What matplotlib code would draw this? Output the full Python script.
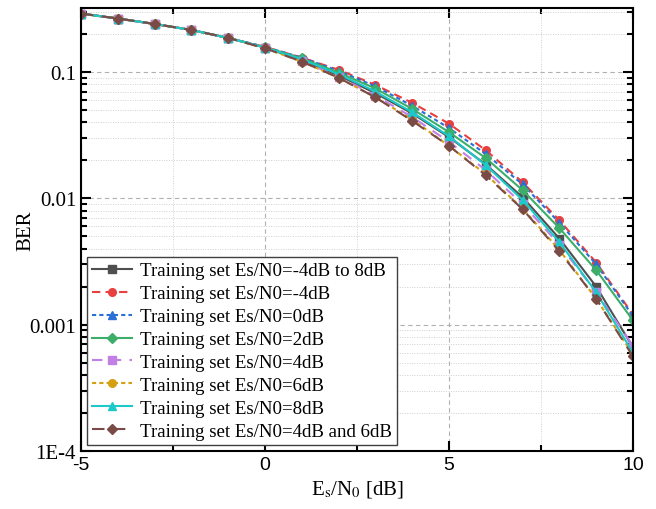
import matplotlib
matplotlib.use("Agg")
import matplotlib.pyplot as plt
from matplotlib.ticker import LogLocator, FixedLocator, NullFormatter

plt.rcParams["mathtext.fontset"] = "stix"

# Es/N0 grid [dB]
snr = [-5, -4, -3, -2, -1, 0, 1, 2, 3, 4, 5, 6, 7, 8, 9, 10]

head = [0.29, 0.265, 0.24, 0.215, 0.186]

ber_all = head + [0.156, 0.124, 0.094, 0.068, 0.047, 0.0305, 0.0185, 0.0102, 0.0048, 0.0020, 0.00066]
ber_m4 = head + [0.158, 0.130, 0.104, 0.079, 0.057, 0.039, 0.024, 0.0134, 0.0067, 0.0031, 0.0012]
ber_0 = head + [0.158, 0.130, 0.102, 0.077, 0.054, 0.036, 0.0224, 0.0129, 0.0064, 0.0030, 0.00117]
ber_2 = head + [0.157, 0.128, 0.099, 0.074, 0.051, 0.0334, 0.0208, 0.0116, 0.0058, 0.0027, 0.00108]
ber_4 = head + [0.155, 0.122, 0.092, 0.065, 0.044, 0.028, 0.0167, 0.0090, 0.0043, 0.0018, 0.00068]
ber_6 = head + [0.154, 0.121, 0.090, 0.063, 0.042, 0.026, 0.0155, 0.0083, 0.0039, 0.0016, 0.00058]
ber_8 = head + [0.156, 0.126, 0.096, 0.070, 0.048, 0.031, 0.0183, 0.0097, 0.0045, 0.0018, 0.00060]
ber_46 = head + [0.154, 0.121, 0.090, 0.063, 0.041, 0.026, 0.0152, 0.0082, 0.0038, 0.0016, 0.00056]

labels = [
    "Training set Es/N0=-4dB to 8dB",
    "Training set Es/N0=-4dB",
    "Training set Es/N0=0dB",
    "Training set Es/N0=2dB",
    "Training set Es/N0=4dB",
    "Training set Es/N0=6dB",
    "Training set Es/N0=8dB",
    "Training set Es/N0=4dB and 6dB",
]

series = [ber_all, ber_m4, ber_0, ber_2, ber_4, ber_6, ber_8, ber_46]
colors = ["#4f4f4f", "#e8403f", "#2a6fd6", "#3cae6a", "#c080e6", "#d4a010", "#1cc8c8", "#7a4a46"]
markers = ["s", "o", "^", "D", "s", "o", "^", "D"]
styles = ["-", (0, (4, 2.5)), (0, (2, 1.5)), "-", (0, (5, 4)), (0, (2, 1.5)), "-", (0, (6, 4))]

serif = "Liberation Serif"

fig = plt.figure(figsize=(6.56, 5.10), dpi=100)
ax = fig.add_axes([0.1235, 0.1137, 0.8415, 0.8683])

for y, lab, c, m, ls in zip(series, labels, colors, markers, styles):
    ax.plot(snr, y, color=c, marker=m, linestyle=ls, linewidth=1.5,
            markersize=5.5, label=lab)

ax.set_yscale("log")
ax.set_xlim(-5, 10)
ax.set_ylim(1e-4, 0.32)

ax.xaxis.set_major_locator(FixedLocator([-5, 0, 5, 10]))
ax.xaxis.set_minor_locator(FixedLocator([-2.5, 2.5, 7.5]))
ax.yaxis.set_minor_locator(LogLocator(base=10, subs=range(2, 10), numticks=20))
ax.yaxis.set_minor_formatter(NullFormatter())
ax.set_yticks([1e-4, 1e-3, 1e-2, 1e-1])
ax.set_yticklabels(["1E-4", "0.001", "0.01", "0.1"], fontfamily=serif, fontsize=15)
ax.set_xticklabels(["-5", "0", "5", "10"], fontfamily="Liberation Sans", fontsize=14)

ax.grid(which="major", linestyle=(0, (4, 3)), color="#b0b0b0", linewidth=0.8)
ax.grid(which="minor", linestyle=(0, (1, 1.5)), color="#d0d0d0", linewidth=0.7)

ax.tick_params(which="both", direction="in", top=True, right=True, width=1.5)
ax.tick_params(which="major", length=7)
ax.tick_params(which="minor", length=4)
for s in ax.spines.values():
    s.set_linewidth(1.5)

ax.set_ylabel("BER", fontfamily=serif, fontsize=15)
ax.yaxis.set_label_coords(-0.083, 0.5)
ax.set_xlabel(r"E$_\mathrm{s}$/N$_\mathrm{0}$ [dB]", fontfamily=serif, fontsize=15)

leg = ax.legend(loc="lower left", prop={"family": serif, "size": 13.6}, frameon=True,
                fancybox=False, edgecolor="#404040", framealpha=1,
                handlelength=2.1, labelspacing=0.3, borderpad=0.3,
                handletextpad=0.4, borderaxespad=0.3)
leg.get_frame().set_linewidth(1.0)

fig.savefig("out.png", dpi=100)
